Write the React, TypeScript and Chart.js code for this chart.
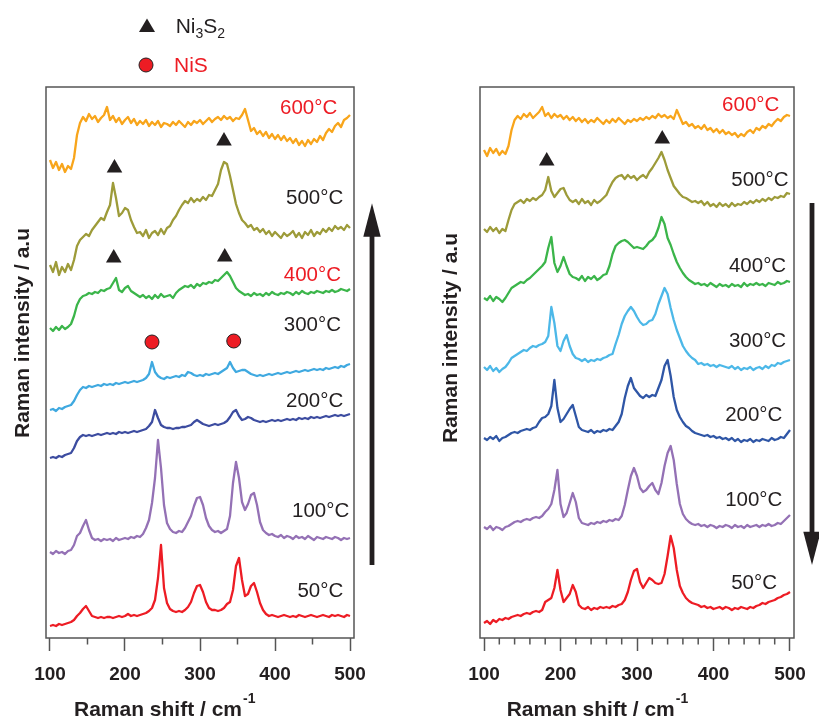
import React, { useEffect, useRef } from 'react';
import { Chart, registerables } from 'chart.js';

Chart.register(...registerables);

const FONT = '"Liberation Sans", Arial, Helvetica, sans-serif';
const INK = '#231F20';
const RED = '#ED1C24';
const FRAME = '#555555';

const ramanShift = [
  100, 104, 108, 112, 116, 120, 124, 128, 132, 136,
  140, 144, 148, 152, 156, 160, 164, 168, 172, 176,
  180, 184, 188, 192, 196, 200, 204, 208, 212, 216,
  220, 224, 228, 232, 236, 240, 244, 248, 252, 256,
  260, 264, 268, 272, 276, 280, 284, 288, 292, 296,
  300, 304, 308, 312, 316, 320, 324, 328, 332, 336,
  340, 344, 348, 352, 356, 360, 364, 368, 372, 376,
  380, 384, 388, 392, 396, 400, 404, 408, 412, 416,
  420, 424, 428, 432, 436, 440, 444, 448, 452, 456,
  460, 464, 468, 472, 476, 480, 484, 488, 492, 496,
  500,
];

const majorTicks = [100, 200, 300, 400, 500];
const minorTicksLeft = [150, 250, 350, 450];
const minorTicksRight = [120, 140, 160, 180, 220, 240, 260, 280, 320, 340, 360, 380, 420, 440, 460, 480];

const temperatureLabels = ['600°C', '500°C', '400°C', '300°C', '200°C', '100°C', '50°C'];

// ---------- left panel spectra (intensity, a.u.) ----------
const left600 = [
  478, 470, 476, 468, 474, 466, 472, 469, 480, 503,
  515, 521, 517, 524, 519, 522, 516, 520, 523, 531,
  518, 522, 516, 520, 514, 518, 521, 515, 519, 513,
  517, 514, 518, 512, 516, 513, 517, 511, 515, 514,
  512, 516, 513, 517, 514, 511, 516, 513, 517, 515,
  518, 514, 517, 520, 516, 519, 521, 518, 522, 519,
  521, 517, 520, 519, 523, 529, 518, 507, 510, 504,
  507, 502, 506, 500, 504, 499, 503, 498, 502, 497,
  500, 495, 499, 493, 497, 492, 498, 494, 499, 496,
  502, 498, 505, 509, 506, 512, 515, 511, 518, 520,
  523,
];
const left500 = [
  373, 366, 376, 363, 371, 366, 374, 368, 378, 392,
  398, 401, 404, 402, 408, 412, 416, 420, 418, 426,
  433, 455, 440, 422, 425, 430, 428, 418, 411, 405,
  406, 402, 408, 400, 405, 407, 403, 409, 404, 410,
  412, 418, 422, 428, 433, 437, 435, 440, 436, 439,
  437, 441, 438, 443, 442, 448, 454, 468, 476, 474,
  462, 448, 434, 425, 418, 415, 411, 413, 408, 410,
  406, 409, 404, 407, 402, 406, 403, 400, 405, 402,
  404, 407, 401, 405, 400, 406, 403, 408, 402, 406,
  404, 409, 406, 410, 407, 412, 409, 411, 408, 413,
  410,
];
const left400 = [
  310, 307, 311, 308, 312, 309, 311, 314, 322, 333,
  339, 342, 343, 345, 344, 346, 345, 348, 347, 349,
  350, 355, 360, 348, 346, 350, 352, 347, 345, 343,
  341, 343, 340, 342, 339, 343, 340, 344, 341, 342,
  343, 340, 345, 348, 350, 352, 351, 353, 350, 354,
  352, 355, 354, 356, 355, 358, 357, 360, 363, 366,
  362, 356, 350, 347, 345, 343, 344, 342, 345, 343,
  344, 342, 345, 343, 346, 344, 343, 345, 344, 346,
  345, 343, 346, 344, 347, 345, 344, 346, 345, 347,
  346, 345, 347, 346, 348, 346, 347, 349, 348, 347,
  349,
];
const left300 = [
  228, 229, 227, 230, 229, 231, 232, 233, 237, 243,
  248, 251, 250, 252, 251, 252, 253, 252, 254, 253,
  254, 253, 255, 254, 255, 256, 255, 256, 257, 256,
  257, 258, 260, 264, 276, 266, 262, 260, 259, 261,
  260, 261, 262, 261, 263, 262, 266, 265, 263, 262,
  263, 262, 264, 263, 264, 265, 264, 266, 268, 270,
  276, 270, 266, 267, 268, 268, 266, 264, 263, 262,
  263, 262, 263, 264, 263, 264, 265, 264, 265, 266,
  265, 266, 267, 266, 267, 268, 267, 268, 269, 268,
  269, 268, 270, 269, 270, 271, 270, 272, 271, 273,
  274,
];
const left200 = [
  180, 181, 180, 182, 181, 183, 184, 185, 190, 197,
  201, 203, 202, 203, 202, 203, 204, 203, 204, 205,
  204, 205, 204, 206, 205, 206, 205, 206, 207, 206,
  207, 208, 209, 212, 216, 228, 220, 213, 211, 210,
  210, 209, 210, 210, 211, 211, 212, 213, 216, 218,
  216, 214, 213, 212, 213, 214, 213, 214, 215, 217,
  221, 226, 228, 222, 218, 219, 221, 220, 218, 217,
  216, 217, 216, 217, 218, 217, 218, 217, 218, 219,
  218, 219, 218, 220, 219, 220, 219, 221, 220, 221,
  220, 221, 222, 221, 222, 223, 222, 223, 222, 223,
  224,
];
const left100 = [
  86, 84, 87, 85, 86, 84, 87, 88, 93, 102,
  105, 112, 118, 108, 100, 98, 99, 97, 99, 98,
  99, 97, 100, 98, 99, 100, 99, 101, 100, 102,
  101, 104, 110, 118, 135, 160, 198, 170, 133, 115,
  109, 106, 105, 107, 106, 110, 116, 122, 132, 140,
  141, 133, 120, 112, 108, 106, 107, 105, 107, 109,
  122, 155, 176, 160, 136, 128, 134, 143, 145, 133,
  116, 108, 105, 103, 104, 102, 101, 103, 100, 102,
  101, 99, 102, 100, 101, 99, 102, 100, 98, 101,
  100, 99, 101, 100, 99, 101, 100, 98, 100, 99,
  100,
];
const left50 = [
  12, 13, 12, 14, 13, 14, 15, 16, 18, 22,
  25, 29, 32, 27, 22, 21, 20, 21, 20, 21,
  21, 20, 21, 22, 21, 22, 24, 22, 23, 22,
  23, 24, 25, 27, 30, 38, 60, 93, 50, 35,
  29, 27, 26, 27, 26, 28, 31, 36, 45, 52,
  53, 46, 36, 30, 28, 28, 27, 28, 30, 34,
  36, 48, 72, 80, 58, 42, 44, 52, 55, 46,
  35, 28, 24, 22, 23, 22, 21, 22, 23, 22,
  21, 22, 21, 23, 22, 21, 22, 23, 22, 21,
  22, 23, 22, 21, 23, 22, 23, 22, 21, 23,
  22,
];

// ---------- right panel spectra (intensity, a.u.) ----------
const right600 = [
  488, 482, 490, 485, 489, 483, 487, 484, 492, 508,
  518, 522, 519, 524, 521, 525, 520, 523, 526, 531,
  522, 525, 520, 524, 521, 523, 519, 522, 518, 521,
  517, 520, 516, 519, 515, 518, 516, 520, 517, 514,
  518, 515, 519, 516, 520, 517, 514, 518, 516, 519,
  517, 520, 518, 521, 519, 522, 520, 524, 521, 523,
  520, 522, 519, 528, 521, 514, 516, 512, 514, 510,
  512, 509, 513, 508, 510, 506, 509, 505, 508, 504,
  506, 503, 505, 501, 504, 502, 506, 508, 505, 510,
  508, 512, 510, 514, 512, 516, 519, 517, 521, 523,
  522,
];
const right500 = [
  409, 406, 411, 407, 410, 405, 409, 407, 418, 428,
  434, 436, 438, 435, 439, 437, 440, 438, 441, 443,
  448, 461, 447, 441, 445, 449, 450, 443, 438, 436,
  438, 434, 439, 435, 437, 433, 438, 435, 437, 440,
  443, 450, 456, 460, 462, 463, 459, 463, 460, 462,
  458, 461, 463, 460, 466, 470, 475, 480, 486, 478,
  468, 460, 452, 448, 444, 441, 440, 438, 436, 437,
  435, 437, 433, 436, 432, 434, 431, 435, 432, 434,
  431, 435, 432, 434, 433, 436, 434, 437, 435, 438,
  436, 439, 437, 440, 438, 441, 440, 442, 441, 445,
  444,
];
const right400 = [
  340, 338, 342, 337, 341, 339, 336, 340, 345, 350,
  352, 354, 356, 355, 358, 360, 363, 366, 369, 372,
  376, 390, 401, 375, 366, 372, 381, 372, 364, 361,
  360, 358, 362, 357, 361, 359, 362, 358, 360, 363,
  364, 372, 384, 392, 395, 397, 398, 396, 393, 390,
  391, 390, 389, 392, 396, 398, 402, 410, 421, 414,
  400, 393, 384, 376, 370, 365, 361, 358, 356, 354,
  355, 353, 354, 352, 355, 353, 351, 354, 352, 353,
  351, 354, 352, 353, 351, 355, 352, 354, 353, 355,
  353, 354, 352, 355, 354, 353, 356, 354, 355, 357,
  356,
];
const right300 = [
  271, 268, 272, 267, 270, 266, 269, 271, 275, 280,
  282, 284, 286, 288, 287, 290, 292, 291, 293, 294,
  296, 302, 331, 315, 292, 287, 297, 303, 292, 284,
  280, 279, 277, 279, 276, 278, 277, 279, 278, 280,
  281, 283, 284, 294, 303, 314, 322, 327, 331, 327,
  321, 316, 313, 314, 317, 318, 324, 334, 342, 350,
  344, 330, 318, 308, 300, 292, 287, 283, 280, 278,
  274, 275, 273, 274, 272, 273, 271, 273, 272, 271,
  270, 272, 269, 271, 268, 270, 269, 271, 268, 270,
  271, 269, 272, 270, 273, 272, 275, 274, 276, 277,
  278,
];
const right200 = [
  200, 198, 201, 199, 202, 197, 200, 201, 203, 205,
  206, 205, 207, 208, 209, 208, 210, 211, 216, 220,
  221, 224, 232, 258, 230, 216, 219, 224, 229, 233,
  222, 211, 208, 207, 206, 208, 205, 207, 206, 208,
  207, 209, 208, 212, 216, 224, 240, 252, 260, 250,
  246, 242, 240, 243, 241, 243, 242, 250, 258, 272,
  278, 262, 241, 228, 221, 216, 212, 210, 207, 205,
  204, 203, 202, 203, 201, 202, 200, 201, 199, 200,
  198, 200, 197, 199, 196, 198, 197, 199, 196, 198,
  197, 199, 198, 197, 200, 198, 199, 201, 200, 204,
  208,
];
const right100 = [
  111, 109, 112, 108, 111, 110, 108, 111, 112, 114,
  116, 117, 116, 118, 119, 118, 120, 121, 120, 122,
  126, 129, 134, 148, 168, 134, 121, 125, 135, 145,
  136, 120, 115, 114, 113, 115, 114, 116, 115, 117,
  116, 118, 117, 119, 118, 122, 133, 148, 162, 170,
  162, 150, 146, 148, 152, 155, 148, 144, 155, 172,
  185, 192, 178, 154, 134, 124, 119, 116, 114, 113,
  114, 112, 113, 111, 113, 112, 110, 112, 111, 113,
  112, 110, 113, 111, 112, 110, 113, 111, 112, 113,
  111, 113, 112, 114, 112, 113, 115, 114, 117, 120,
  123,
];
const right50 = [
  15, 17, 14, 18, 16, 19, 18, 20, 19, 21,
  22, 23, 22, 24, 25, 24, 26, 27, 26, 28,
  36, 38, 40, 50, 68, 48, 36, 40, 44, 53,
  46, 33, 30, 29, 31, 28, 30, 29, 31, 30,
  31, 30, 32, 31, 33, 34, 38, 46, 58, 67,
  69, 56, 50, 55, 60, 58, 55, 54, 55, 64,
  82, 102, 90, 68, 52, 45, 40, 37, 35, 34,
  33, 31, 32, 30, 31, 29, 30, 31, 29, 31,
  30, 28, 30, 29, 31, 30, 29, 31, 30, 32,
  33, 35, 34, 36, 37, 38, 40, 41, 43, 44,
  46,
];

const leftSeries = [left600, left500, left400, left300, left200, left100, left50];
const rightSeries = [right600, right500, right400, right300, right200, right100, right50];

const leftColors = ['#F8A51B', '#9D9B39', '#3BB54A', '#3FA9E0', '#3C4CA0', '#9471B5', '#ED1C24'];
const rightColors = ['#F8A51B', '#9D9B39', '#3BB54A', '#4CB8E8', '#2F56A6', '#9471B5', '#ED1C24'];
const leftLabelColors = [RED, INK, RED, INK, INK, INK, INK];
const rightLabelColors = [RED, INK, INK, INK, INK, INK, INK];

const leftLabelShift = [483, 491, 488, 488, 491, 499, 491];
const leftLabelHeight = [530, 440, 363, 313, 237, 127, 47];
const rightLabelShift = [486, 498, 495, 495, 490, 490, 483];
const rightLabelHeight = [533, 458, 372, 297, 223, 138, 55];

const leftTriangleShift = [186, 332, 185, 333];
const leftTriangleHeight = [470, 497, 380, 381];
const leftCircleShift = [236, 345];
const leftCircleHeight = [296, 297];
const rightTriangleShift = [182, 333];
const rightTriangleHeight = [477, 499];

type PanelSpec = {
  left: number;
  width: number;
  padLeft: number;
  padRight: number;
  xMin: number;
  xMax: number;
  series: number[][];
  colors: string[];
  labelColors: string[];
  labelShift: number[];
  labelHeight: number[];
  triShift: number[];
  triHeight: number[];
  circShift: number[];
  circHeight: number[];
  minorTicks: number[];
  xTitleX: number;
  yTitleX: number;
  yTitleY: number;
  arrowX: number;
  arrowUp: boolean;
  arrowTail: number;
  arrowBase: number;
  arrowTip: number;
  legend: boolean;
};

const leftSpec: PanelSpec = {
  left: 0, width: 410, padLeft: 46, padRight: 56, xMin: 94.67, xMax: 505.33,
  series: leftSeries, colors: leftColors, labelColors: leftLabelColors,
  labelShift: leftLabelShift, labelHeight: leftLabelHeight,
  triShift: leftTriangleShift, triHeight: leftTriangleHeight,
  circShift: leftCircleShift, circHeight: leftCircleHeight,
  minorTicks: minorTicksLeft, xTitleX: 74, yTitleX: 23, yTitleY: 333,
  arrowX: 372, arrowUp: true, arrowTail: 565, arrowBase: 236.7, arrowTip: 203.3, legend: true,
};

const rightSpec: PanelSpec = {
  left: 410, width: 409, padLeft: 70, padRight: 25, xMin: 94.77, xMax: 505.23,
  series: rightSeries, colors: rightColors, labelColors: rightLabelColors,
  labelShift: rightLabelShift, labelHeight: rightLabelHeight,
  triShift: rightTriangleShift, triHeight: rightTriangleHeight,
  circShift: [], circHeight: [],
  minorTicks: minorTicksRight, xTitleX: 96.7, yTitleX: 41, yTitleY: 338,
  arrowX: 402, arrowUp: false, arrowTail: 203, arrowBase: 531.7, arrowTip: 565, legend: false,
};

function makeDecor(p: PanelSpec) {
  return {
    id: 'decor',
    afterDraw(chart: any) {
      const { ctx, chartArea: a, scales } = chart;
      const xs = scales.x;
      const ys = scales.y;
      ctx.save();
      // frame
      ctx.strokeStyle = FRAME;
      ctx.lineWidth = 1.5;
      ctx.strokeRect(a.left, a.top, a.right - a.left, a.bottom - a.top);
      // minor ticks
      ctx.beginPath();
      p.minorTicks.forEach((v) => {
        const px = xs.getPixelForValue(v);
        ctx.moveTo(px, a.bottom);
        ctx.lineTo(px, a.bottom + 6.5);
      });
      ctx.stroke();
      // temperature labels
      ctx.font = `20.5px ${FONT}`;
      ctx.textAlign = 'right';
      ctx.textBaseline = 'middle';
      temperatureLabels.forEach((t, i) => {
        ctx.fillStyle = p.labelColors[i];
        ctx.fillText(t, xs.getPixelForValue(p.labelShift[i]), ys.getPixelForValue(p.labelHeight[i]));
      });
      // x title
      ctx.fillStyle = INK;
      ctx.textAlign = 'left';
      ctx.textBaseline = 'alphabetic';
      ctx.font = `bold 21px ${FONT}`;
      const main = 'Raman shift / cm';
      ctx.fillText(main, p.xTitleX, 716);
      const w = ctx.measureText(main).width;
      ctx.font = `bold 14px ${FONT}`;
      ctx.fillText('-1', p.xTitleX + w + 1, 703);
      // y title
      ctx.save();
      ctx.translate(p.yTitleX, p.yTitleY);
      ctx.rotate(-Math.PI / 2);
      ctx.font = `bold 21px ${FONT}`;
      ctx.textAlign = 'center';
      ctx.textBaseline = 'middle';
      ctx.fillText('Raman intensity / a.u', 0, 0);
      ctx.restore();
      // arrow
      ctx.fillStyle = INK;
      const sx = p.arrowX;
      if (p.arrowUp) {
        ctx.fillRect(sx - 2.4, p.arrowBase - 1, 4.8, p.arrowTail - p.arrowBase + 1);
      } else {
        ctx.fillRect(sx - 2.4, p.arrowTail, 4.8, p.arrowBase - p.arrowTail + 1);
      }
      ctx.beginPath();
      ctx.moveTo(sx, p.arrowTip);
      ctx.lineTo(sx - 8.7, p.arrowBase);
      ctx.lineTo(sx + 8.7, p.arrowBase);
      ctx.closePath();
      ctx.fill();
      // legend
      if (p.legend) {
        ctx.beginPath();
        ctx.moveTo(147, 18.5);
        ctx.lineTo(139, 32);
        ctx.lineTo(155, 32);
        ctx.closePath();
        ctx.fillStyle = INK;
        ctx.fill();
        ctx.beginPath();
        ctx.arc(146, 65, 7, 0, Math.PI * 2);
        ctx.fillStyle = RED;
        ctx.fill();
        ctx.lineWidth = 1;
        ctx.strokeStyle = INK;
        ctx.stroke();
        ctx.textAlign = 'left';
        ctx.textBaseline = 'alphabetic';
        ctx.fillStyle = INK;
        let x = 175.7;
        const big = `21px ${FONT}`;
        const small = `14px ${FONT}`;
        const parts: [string, boolean][] = [['Ni', false], ['3', true], ['S', false], ['2', true]];
        parts.forEach(([s, sub]) => {
          ctx.font = sub ? small : big;
          ctx.fillText(s, x, sub ? 37.5 : 33);
          x += ctx.measureText(s).width;
        });
        ctx.font = big;
        ctx.fillStyle = RED;
        ctx.fillText('NiS', 174, 72);
      }
      ctx.restore();
    },
  };
}

function Panel({ spec }: { spec: PanelSpec }) {
  const ref = useRef<HTMLCanvasElement | null>(null);
  useEffect(() => {
    if (!ref.current) return;
    const lineSets = spec.series.map((vals, i) => ({
      data: ramanShift.map((x, j) => ({ x, y: vals[j] })),
      borderColor: spec.colors[i],
      borderWidth: 2.3,
      borderJoinStyle: 'round',
      pointRadius: 0,
      tension: 0,
      fill: false,
    }));
    const markerSets: any[] = [
      {
        data: spec.triShift.map((x, j) => ({ x, y: spec.triHeight[j] })),
        showLine: false,
        pointStyle: 'triangle',
        pointRadius: 9,
        backgroundColor: INK,
        borderColor: INK,
        borderWidth: 0,
      },
    ];
    if (spec.circShift.length) {
      markerSets.push({
        data: spec.circShift.map((x, j) => ({ x, y: spec.circHeight[j] })),
        showLine: false,
        pointStyle: 'circle',
        pointRadius: 7,
        backgroundColor: RED,
        borderColor: INK,
        borderWidth: 1,
      });
    }
    const chart = new Chart(ref.current, {
      type: 'line',
      data: { datasets: [...lineSets, ...markerSets] as any },
      plugins: [makeDecor(spec) as any],
      options: {
        animation: false,
        responsive: false,
        events: [],
        layout: { padding: { left: spec.padLeft, right: spec.padRight, top: 87, bottom: 0 } },
        plugins: { legend: { display: false }, tooltip: { enabled: false } },
        scales: {
          x: {
            type: 'linear',
            min: spec.xMin,
            max: spec.xMax,
            afterBuildTicks: (axis: any) => {
              axis.ticks = majorTicks.map((v) => ({ value: v }));
            },
            afterFit: (axis: any) => {
              axis.height = 81;
            },
            grid: {
              display: true,
              drawOnChartArea: false,
              drawTicks: true,
              tickLength: 13,
              tickColor: FRAME,
              tickWidth: 1.5,
            },
            border: { display: false },
            ticks: {
              padding: 12,
              color: INK,
              autoSkip: false,
              maxRotation: 0,
              font: { family: FONT, size: 19, weight: 'bold' },
              callback: (v: any) => String(v),
            },
          },
          y: {
            type: 'linear',
            min: 0,
            max: 551,
            display: false,
          },
        },
      } as any,
    });
    return () => chart.destroy();
  }, [spec]);
  return (
    <canvas
      ref={ref}
      width={spec.width}
      height={719}
      style={{ position: 'absolute', left: spec.left, top: 0, width: spec.width, height: 719 }}
    />
  );
}

export default function App() {
  return (
    <div style={{ position: 'fixed', left: 0, top: 0, width: 819, height: 719, background: '#fff', overflow: 'hidden' }}>
      <Panel spec={leftSpec} />
      <Panel spec={rightSpec} />
    </div>
  );
}
